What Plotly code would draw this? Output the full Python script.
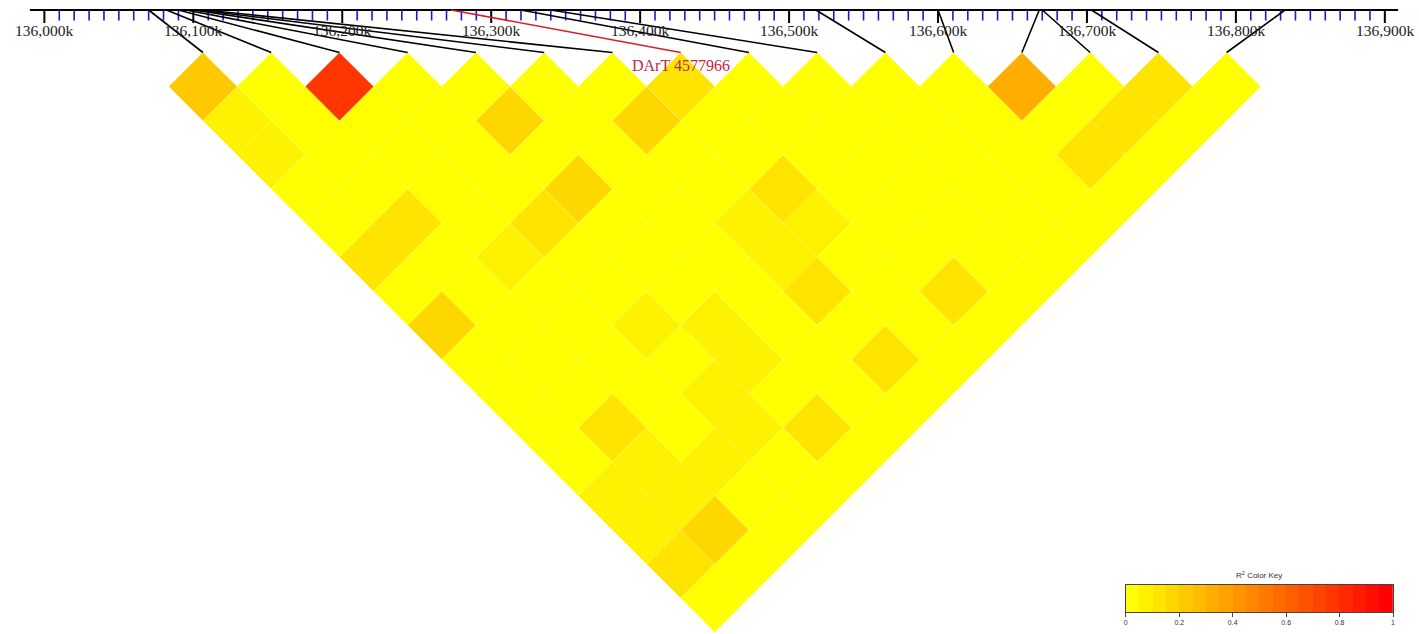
import plotly.graph_objects as go

# ---- data -------------------------------------------------------------
# physical position (kb) of each marker on the chromosome
snp_pos_kb = [136070, 136082, 136090, 136095, 136100, 136104, 136108, 136273,
              136320, 136340, 136518, 136600, 136668, 136670, 136703, 136833]
highlight_index = 7
highlight_name = "DArT 4577966"

# genome ruler
major_ticks_kb = [136000, 136100, 136200, 136300, 136400, 136500, 136600, 136700, 136800, 136900]
major_labels = ["136,000k", "136,100k", "136,200k", "136,300k", "136,400k",
                "136,500k", "136,600k", "136,700k", "136,800k", "136,900k"]
minor_step_kb = 10
ruler_start_kb, ruler_end_kb = 135990.3, 136908.9

# pairwise R^2, one list per diagonal band (band 0 = top row of the triangle)
r2_band_0 = [0.22, 0.03, 0.78, 0.02, 0.03, 0.02, 0.03, 0.12, 0.02, 0.03, 0.02, 0.02, 0.34, 0.02, 0.11, 0.02]
r2_band_1 = [0.07, 0.04, 0.03, 0.02, 0.17, 0.03, 0.19, 0.03, 0.02, 0.02, 0.02, 0.02, 0.03, 0.10, 0.02]
r2_band_2 = [0.07, 0.03, 0.02, 0.03, 0.02, 0.03, 0.02, 0.03, 0.02, 0.03, 0.02, 0.03, 0.10, 0.03]
r2_band_3 = [0.03, 0.03, 0.02, 0.03, 0.16, 0.02, 0.03, 0.13, 0.03, 0.02, 0.02, 0.03, 0.02]
r2_band_4 = [0.03, 0.10, 0.03, 0.13, 0.03, 0.02, 0.05, 0.06, 0.03, 0.02, 0.03, 0.02]
r2_band_5 = [0.13, 0.03, 0.08, 0.03, 0.02, 0.03, 0.08, 0.04, 0.03, 0.02, 0.02]
r2_band_6 = [0.04, 0.03, 0.03, 0.02, 0.03, 0.03, 0.13, 0.04, 0.13, 0.03]
r2_band_7 = [0.15, 0.03, 0.03, 0.06, 0.07, 0.03, 0.04, 0.03, 0.02]
r2_band_8 = [0.03, 0.03, 0.03, 0.04, 0.07, 0.04, 0.12, 0.03]
r2_band_9 = [0.03, 0.04, 0.04, 0.06, 0.04, 0.04, 0.03]
r2_band_10 = [0.03, 0.10, 0.04, 0.06, 0.14, 0.03]
r2_band_11 = [0.04, 0.08, 0.07, 0.04, 0.03]
r2_band_12 = [0.06, 0.09, 0.04, 0.03]
r2_band_13 = [0.06, 0.17, 0.03]
r2_band_14 = [0.12, 0.03]
r2_band_15 = [0.03]
r2_bands = [r2_band_0, r2_band_1, r2_band_2, r2_band_3, r2_band_4, r2_band_5,
            r2_band_6, r2_band_7, r2_band_8, r2_band_9, r2_band_10, r2_band_11,
            r2_band_12, r2_band_13, r2_band_14, r2_band_15]

key_ticks = [0, 0.2, 0.4, 0.6, 0.8, 1]
key_tick_labels = ["0", "0.2", "0.4", "0.6", "0.8", "1"]

# ---- geometry / style -------------------------------------------------
W, H = 1419, 634
PX_PER_KB = 1.4936
PX_AT_136000 = 42.5
X_MIN_KB = 136000 - PX_AT_136000 / PX_PER_KB
X_MAX_KB = X_MIN_KB + W / PX_PER_KB

HM_X0_KB = 136000 + (201.5 - PX_AT_136000) / PX_PER_KB   # first marker column
HM_STEP_KB = 68.44 / PX_PER_KB                          # column spacing
HM_TOP = 52.5                                           # top vertex of row 0
HM_HALF_H = 34.1                                        # half height of a cell

RULER_Y = 10
N_COLORS = 20
palette = ["#FF{:02X}00".format(round(255 * (1 - k / (N_COLORS - 1)))) for k in range(N_COLORS)]

SERIF = "Liberation Serif, Times New Roman, serif"
SANS = "Liberation Sans, Arial, sans-serif"


def color_bin(v):
    return min(int(v * N_COLORS), N_COLORS - 1)


fig = go.Figure()

# ---- LD triangle ------------------------------------------------------
polys = {k: ([], []) for k in range(N_COLORS)}
for d, band in enumerate(r2_bands):
    for i, v in enumerate(band):
        j = i + d
        xc = HM_X0_KB + HM_STEP_KB * (i + j) / 2
        yc = HM_TOP + HM_HALF_H * (d + 1)
        hx = HM_STEP_KB / 2
        xs, ys = polys[color_bin(v)]
        xs += [xc, xc + hx, xc, xc - hx, xc, None]
        ys += [yc - HM_HALF_H, yc, yc + HM_HALF_H, yc, yc - HM_HALF_H, None]

for k, (xs, ys) in polys.items():
    if not xs:
        continue
    fig.add_trace(go.Scatter(
        x=xs, y=ys, mode="lines", fill="toself", fillcolor=palette[k],
        line=dict(color="rgba(255,255,255,0.22)", width=0.6),
        hoverinfo="skip", showlegend=False))

# ---- genome ruler -----------------------------------------------------
fig.add_trace(go.Scatter(
    x=[ruler_start_kb, ruler_end_kb], y=[RULER_Y, RULER_Y], mode="lines",
    line=dict(color="black", width=2), hoverinfo="skip", showlegend=False))

mx, my = [], []
kb = major_ticks_kb[0] + minor_step_kb
while kb < major_ticks_kb[-1]:
    if kb not in major_ticks_kb:
        mx += [kb, kb, None]
        my += [RULER_Y, 20.5, None]
    kb += minor_step_kb
fig.add_trace(go.Scatter(x=mx, y=my, mode="lines", line=dict(color="#1a1acc", width=1.6),
                         hoverinfo="skip", showlegend=False))

tx, ty = [], []
for t in major_ticks_kb:
    tx += [t, t, None]
    ty += [RULER_Y, 23, None]
fig.add_trace(go.Scatter(x=tx, y=ty, mode="lines", line=dict(color="black", width=2),
                         hoverinfo="skip", showlegend=False))

for t, lab in zip(major_ticks_kb, major_labels):
    fig.add_annotation(x=t, y=30, xref="x", yref="y", text=lab, showarrow=False,
                       font=dict(family=SERIF, size=15.5, color="#222"),
                       xanchor="center", yanchor="middle")

# ---- connectors from ruler to the triangle ----------------------------
cx, cy = [], []
for k, p in enumerate(snp_pos_kb):
    if k == highlight_index:
        continue
    cx += [p, HM_X0_KB + HM_STEP_KB * k, None]
    cy += [RULER_Y, HM_TOP, None]
fig.add_trace(go.Scatter(x=cx, y=cy, mode="lines", line=dict(color="black", width=1.6),
                         hoverinfo="skip", showlegend=False))

hx_top = HM_X0_KB + HM_STEP_KB * highlight_index
fig.add_trace(go.Scatter(
    x=[snp_pos_kb[highlight_index], hx_top], y=[RULER_Y, HM_TOP], mode="lines",
    line=dict(color="#d81e2a", width=1.6), hoverinfo="skip", showlegend=False))
fig.add_annotation(x=hx_top, y=65, xref="x", yref="y", text=highlight_name,
                   showarrow=False, font=dict(family=SERIF, size=16, color="#c0283c"),
                   xanchor="center", yanchor="middle")

# ---- colour key -------------------------------------------------------
key_centers = [(k + 0.5) / N_COLORS for k in range(N_COLORS)]
colorscale = []
for k in range(N_COLORS):
    colorscale.append([k / N_COLORS, palette[k]])
    colorscale.append([(k + 1) / N_COLORS, palette[k]])
fig.add_trace(go.Heatmap(
    x=key_centers, y=[0], z=[key_centers], xaxis="x2", yaxis="y2",
    colorscale=colorscale, zmin=0, zmax=1, showscale=False, hoverinfo="skip"))

fig.add_annotation(x=(1127 + 1395) / 2 / W, y=1 - 575 / H, xref="paper", yref="paper",
                   text="R<sup>2</sup> Color Key", showarrow=False,
                   xanchor="center", yanchor="middle",
                   font=dict(family=SANS, size=8, color="#333"))

fig.update_layout(
    width=W, height=H, margin=dict(l=0, r=0, t=0, b=0),
    plot_bgcolor="white", paper_bgcolor="white",
    xaxis=dict(range=[X_MIN_KB, X_MAX_KB], visible=False, domain=[0, 1]),
    yaxis=dict(range=[H, 0], visible=False, domain=[0, 1]),
    xaxis2=dict(domain=[1127 / W, 1395 / W], anchor="y2", range=[0, 1],
                tickvals=key_ticks, ticktext=key_tick_labels, ticks="outside",
                ticklen=4, tickcolor="#444", tickwidth=1,
                tickfont=dict(family=SANS, size=7, color="#333"),
                showline=True, linecolor="#444", linewidth=1, mirror=True,
                showgrid=False, zeroline=False),
    yaxis2=dict(domain=[1 - 612 / H, 1 - 585 / H], anchor="x2", range=[-0.5, 0.5],
                showticklabels=False, ticks="", showline=True, linecolor="#444",
                linewidth=1, mirror=True, showgrid=False, zeroline=False),
)

fig.write_html("out.html")
